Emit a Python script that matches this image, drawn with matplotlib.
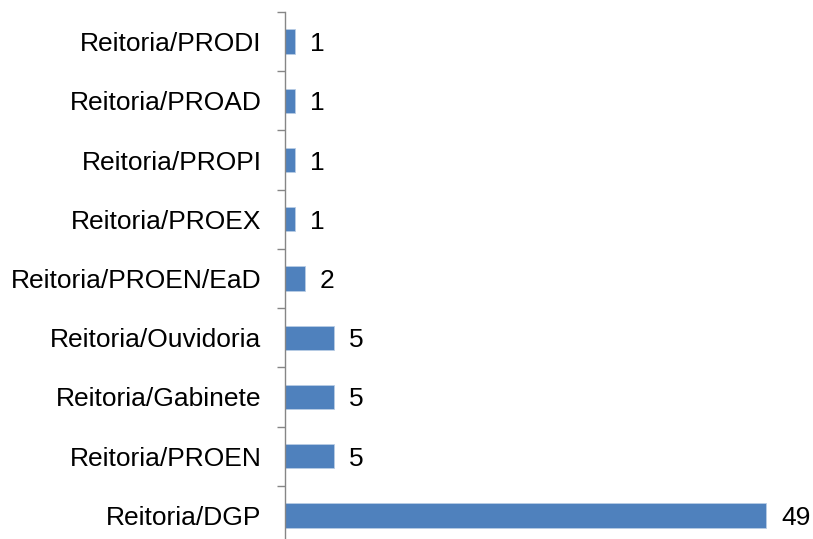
import matplotlib.pyplot as plt
import numpy as np

plt.rcParams['font.family'] = ['Liberation Sans', 'DejaVu Sans']

categories = [
    'Reitoria/DGP',
    'Reitoria/PROEN',
    'Reitoria/Gabinete',
    'Reitoria/Ouvidoria',
    'Reitoria/PROEN/EaD',
    'Reitoria/PROEX',
    'Reitoria/PROPI',
    'Reitoria/PROAD',
    'Reitoria/PRODI',
]
values = [49, 5, 5, 5, 2, 1, 1, 1, 1]

W, H = 813, 539
fig = plt.figure(figsize=(W / 100, H / 100), dpi=100)

# axes placed in pixel terms: spine at x=285, top at y=12, bottom just below image
left, top, bottom = 285, 12, 545
ax = fig.add_axes([left / W, (H - bottom) / H, 520 / W, (bottom - top) / H])

y = np.arange(len(categories))
bars = ax.barh(y, values, height=0.41, color='#4F81BD',
               edgecolor='#B9CDE5', linewidth=0.6)

texts = ax.bar_label(bars, labels=[str(v) for v in values], padding=11, fontsize=19)
for t in texts:
    t.set_va('center_baseline')

ax.set_ylim(-0.5, len(categories) - 0.5)
ax.set_xlim(0, 520 / 9.82)

ax.set_yticks(y)
ax.set_yticklabels(categories, fontsize=19)
ax.set_yticks(np.arange(len(categories) + 1) - 0.5, minor=True)
ax.tick_params(axis='y', which='major', length=0, pad=17)
ax.tick_params(axis='y', which='minor', length=6, width=1, color='#868686')
ax.set_xticks([])

for s in ('top', 'right', 'bottom'):
    ax.spines[s].set_visible(False)
ax.spines['left'].set_color('#868686')
ax.spines['left'].set_linewidth(1)

fig.savefig('out.png', dpi=100)
